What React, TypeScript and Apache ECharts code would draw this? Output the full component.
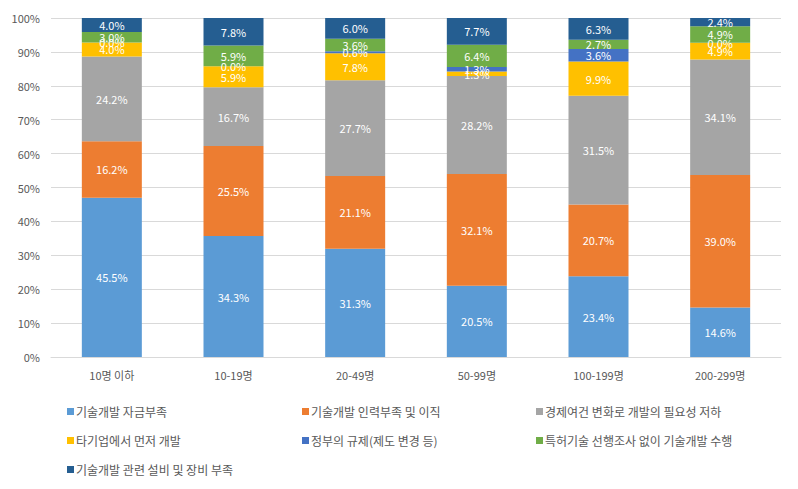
import React, { useEffect, useRef } from "react";
import * as echarts from "echarts";

const categories = ["10명 이하", "10-19명", "20-49명", "50-99명", "100-199명", "200-299명"];
const seriesNames = [
  "기술개발 자금부족",
  "기술개발 인력부족 및 이직",
  "경제여건 변화로 개발의 필요성 저하",
  "타기업에서 먼저 개발",
  "정부의 규제(제도 변경 등)",
  "특허기술 선행조사 없이 기술개발 수행",
  "기술개발 관련 설비 및 장비 부족",
];
const fund = [45.5, 34.3, 31.3, 20.5, 23.4, 14.6];
const staff = [16.2, 25.5, 21.1, 32.1, 20.7, 39.0];
const economy = [24.2, 16.7, 27.7, 28.2, 31.5, 34.1];
const otherFirst = [4.0, 5.9, 7.8, 1.3, 9.9, 4.9];
const regulation = [0.0, 0.0, 0.6, 1.3, 3.6, 0.0];
const patent = [3.0, 5.9, 3.6, 6.4, 2.7, 4.9];
const equipment = [4.0, 7.8, 6.0, 7.7, 6.3, 2.4];
const yTicks = [0, 10, 20, 30, 40, 50, 60, 70, 80, 90, 100];
const colors = ["#5B9BD5", "#ED7D31", "#A5A5A5", "#FFC000", "#4472C4", "#70AD47", "#255E91"];

const FONT = "'Noto Sans CJK KR', 'Noto Sans', sans-serif";

export default function App() {
  const ref = useRef<HTMLDivElement>(null);
  useEffect(() => {
    if (!ref.current) return;
    const chart = echarts.init(ref.current, null, { renderer: "svg" });
    const all = [fund, staff, economy, otherFirst, regulation, patent, equipment];
    const totals = categories.map((_, i) => all.reduce((s, arr) => s + arr[i], 0));
    const series = all.map((arr, si) => ({
      name: seriesNames[si],
      type: "bar",
      stack: "total",
      barWidth: 60,
      itemStyle: { color: colors[si] },
      data: arr.map((v, i) => ({ value: (v / totals[i]) * 100, raw: v })),
      label: {
        show: true,
        position: "inside",
        color: "#ffffff",
        fontSize: 11,
        fontFamily: FONT,
        formatter: (p: any) => p.data.raw.toFixed(1) + "%",
      },
    }));
    const legendCommon = {
      orient: "vertical",
      top: 399,
      itemWidth: 7,
      itemHeight: 7,
      itemGap: 14,
      icon: "rect",
      textStyle: { color: "#595959", fontSize: 12, fontFamily: FONT, lineHeight: 15, padding: [0, 0, 0, -3] },
    };
    chart.setOption({
      animation: false,
      grid: { left: 51, right: 17, top: 18, bottom: 132 },
      xAxis: {
        type: "category",
        data: categories,
        axisLine: { lineStyle: { color: "#d9d9d9" } },
        axisTick: { show: false },
        axisLabel: { color: "#595959", fontSize: 11, fontFamily: FONT, margin: 12 },
      },
      yAxis: {
        type: "value",
        min: yTicks[0],
        max: yTicks[yTicks.length - 1],
        interval: 10,
        axisLine: { show: false },
        axisTick: { show: false },
        splitLine: { lineStyle: { color: "#d9d9d9" } },
        axisLabel: { color: "#595959", fontSize: 11, fontFamily: FONT, margin: 11, formatter: "{value}%" },
      },
      legend: [
        { ...legendCommon, left: 62, data: [seriesNames[0], seriesNames[3], seriesNames[6]] },
        { ...legendCommon, left: 297, data: [seriesNames[1], seriesNames[4]] },
        { ...legendCommon, left: 531, data: [seriesNames[2], seriesNames[5]] },
      ],
      series,
    });
    return () => chart.dispose();
  }, []);
  return <div ref={ref} style={{ width: 798, height: 489, margin: -8 }} />;
}
